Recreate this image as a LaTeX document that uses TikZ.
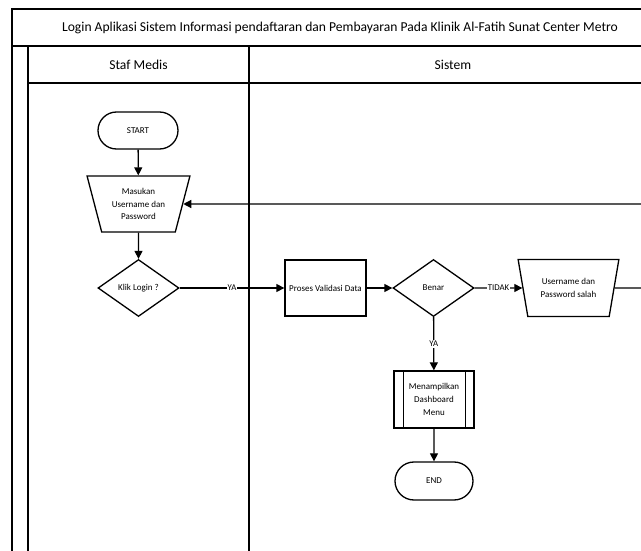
\documentclass[tikz,border=0pt]{standalone}
\usepackage{fontspec}
\setmainfont{Carlito}
\usetikzlibrary{shapes.geometric,shapes.misc,arrows.meta}
\begin{document}
\begin{tikzpicture}[x=1pt,y=-1pt,
  lane/.style={line width=1.4pt},
  base/.style={draw, line width=1.3pt, align=center, inner sep=1pt, font=\fontsize{9}{12.8}\selectfont},
  term/.style={base, rounded rectangle, minimum width=82pt, minimum height=37pt},
  io/.style={base, trapezium, shape border rotate=180, trapezium stretches=true, trapezium angle=72},
  proc/.style={base, rectangle, minimum width=81pt, minimum height=56pt},
  dec/.style={base, diamond, minimum width=81pt, minimum height=57pt, inner sep=0pt},
  arr/.style={line width=1.3pt, -{Triangle[length=8pt,width=8pt]}},
  conn/.style={line width=1.3pt},
  lbl/.style={fill=white, inner sep=1pt, font=\fontsize{8.8}{10}\selectfont},
  head/.style={font=\fontsize{13.6}{15}\selectfont}
]
\useasboundingbox (0,0) rectangle (641,551);
\clip (0,0) rectangle (641,551);
\fill[white] (0,0) rectangle (641,551);

% pool and lanes
\draw[lane] (12,600) -- (12,9) -- (700,9);
\draw[lane] (12,46) -- (700,46);
\draw[lane] (28,600) -- (28,46);
\draw[lane] (28,83) -- (700,83);
\draw[lane] (249,46) -- (249,600);
\node[head] (title) at (340,27.5) {Login Aplikasi Sistem Informasi pendaftaran dan Pembayaran Pada Klinik Al-Fatih Sunat Center Metro};
\node[head] (lane1) at (138.5,64.5) {Staf Medis};
\node[head] (lane2) at (453,64.5) {Sistem};

% nodes
\node[term] (start) at (138,130.5) {START};
\node[io, minimum width=103pt, minimum height=56pt] (masukan) at (138.5,204) {Masukan\\Username dan\\Password};
\node[dec] (klik) at (138.5,288) {Klik Login ?};
\node[proc] (proses) at (325.5,288) {Proses Validasi Data};
\node[dec] (benar) at (433.5,288) {Benar};
\node[io, minimum width=101pt, minimum height=57pt] (salah) at (568.5,288) {Username dan\\Password salah};
\node[proc, minimum width=80pt, minimum height=57pt] (tampil) at (434,399.5) {Menampilkan\\Dashboard\\Menu};
\draw[conn] ([xshift=10pt]tampil.north west) -- ([xshift=10pt]tampil.south west);
\draw[conn] ([xshift=-9pt]tampil.north east) -- ([xshift=-9pt]tampil.south east);
\node[term, minimum width=80pt, minimum height=38pt] (end) at (434,481) {END};

\coordinate (ra) at (700,288);
\coordinate (rb) at (700,204);

% connectors
\draw[arr] (start) -- (masukan);
\draw[arr] (masukan) -- (klik);
\draw[arr] (klik) -- node[lbl] {YA} (proses);
\draw[arr] (proses) -- (benar);
\draw[arr] (benar) -- node[lbl] {TIDAK} (salah);
\draw[arr] (benar) -- node[lbl] {YA} (tampil);
\draw[arr] (tampil) -- (end);
\draw[arr] (salah.east) -- (ra) -- (rb) -- (masukan.east);
\end{tikzpicture}
\end{document}
